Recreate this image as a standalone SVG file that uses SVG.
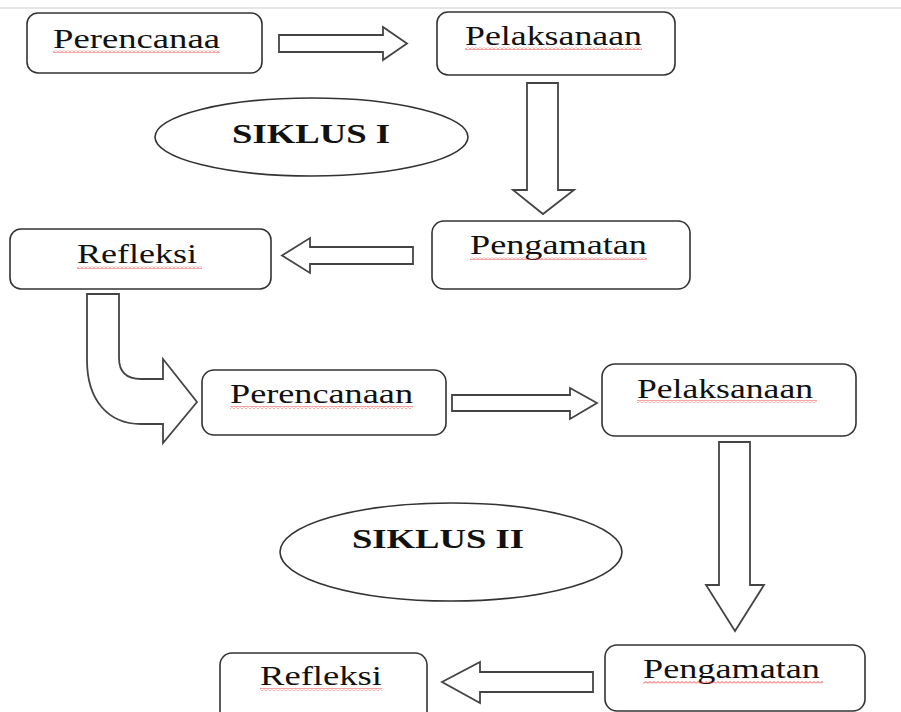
<svg xmlns="http://www.w3.org/2000/svg" width="901" height="712" viewBox="0 0 901 712">
<style>
.box{fill:#fff;stroke:#333;stroke-width:1.6}
.arr{fill:#fff;stroke:#444;stroke-width:1.8;stroke-linejoin:miter}
.lbl{font-family:"Liberation Serif","Times New Roman",serif;font-size:27px;fill:#111}
.sik{font-family:"Liberation Serif","Times New Roman",serif;font-size:27px;font-weight:bold;fill:#111}
.ell{fill:#fff;stroke:#333;stroke-width:1.6}
.wav{fill:url(#wave)}
</style>
<defs>
<pattern id="wave" width="4" height="3" patternUnits="userSpaceOnUse">
<path d="M0,2.5 L2,0.5 L4,2.5" fill="none" stroke="#e33" stroke-width="0.9"/>
</pattern>
</defs>
<rect width="901" height="712" fill="#fff"/>
<line x1="0" y1="8" x2="901" y2="8" stroke="#ccc" stroke-width="1"/>

<g id="connectors">
<path class="arr" d="M279,35 L383,35 L383,27 L407,43.5 L383,60 L383,52 L279,52 Z"/>
<path class="arr" d="M527,83 L558,83 L558,190 L574,190 L543,214 L513,190 L527,190 Z"/>
<path class="arr" d="M413,247 L310,247 L310,238 L282,255.5 L310,273 L310,264 L413,264 Z"/>
<path class="arr" d="M87,294 L119,294 L119,358 Q119,379 141,379 L163,379 L163,359 L197,402 L163,443 L163,424 L141,424 C108,424 87,400 87,360 Z"/>
<path class="arr" d="M452,395 L570,395 L570,388 L597,403 L570,419 L570,411 L452,411 Z"/>
<path class="arr" d="M719,442 L750,442 L750,585 L764,585 L735,631 L706,585 L719,585 Z"/>
<path class="arr" d="M593,672 L480,672 L480,662 L442,682 L480,703 L480,692 L593,692 Z"/>
</g>

<g id="siklus1">
<ellipse class="ell" cx="311.5" cy="137" rx="156.5" ry="39"/>
<text class="sik" x="232" y="143" textLength="158" lengthAdjust="spacingAndGlyphs">SIKLUS I</text>
</g>
<g id="siklus2">
<ellipse class="ell" cx="451" cy="552" rx="171" ry="49"/>
<text class="sik" x="352" y="548" textLength="172" lengthAdjust="spacingAndGlyphs">SIKLUS II</text>
</g>

<g id="perencanaa1">
<rect class="box" x="27" y="13" width="235" height="60" rx="11"/>
<text class="lbl" x="53" y="48" textLength="167" lengthAdjust="spacingAndGlyphs">Perencanaa</text>
<rect class="wav" x="53" y="50" width="167" height="3"/>
</g>
<g id="pelaksanaan1">
<rect class="box" x="437" y="12" width="238" height="63" rx="11"/>
<text class="lbl" x="465" y="45" textLength="177" lengthAdjust="spacingAndGlyphs">Pelaksanaan</text>
<rect class="wav" x="465" y="47" width="177" height="3"/>
</g>
<g id="pengamatan1">
<rect class="box" x="432" y="221" width="258" height="68" rx="12"/>
<text class="lbl" x="470" y="254" textLength="177" lengthAdjust="spacingAndGlyphs">Pengamatan</text>
<rect class="wav" x="470" y="257" width="177" height="3"/>
</g>
<g id="refleksi1">
<rect class="box" x="10" y="229" width="261" height="60" rx="11"/>
<text class="lbl" x="77" y="263" textLength="120" lengthAdjust="spacingAndGlyphs">Refleksi</text>
<rect class="wav" x="77" y="266" width="125" height="3"/>
</g>
<g id="perencanaan2">
<rect class="box" x="202" y="370" width="244" height="65" rx="12"/>
<text class="lbl" x="230" y="403" textLength="183" lengthAdjust="spacingAndGlyphs">Perencanaan</text>
<rect class="wav" x="230" y="406" width="183" height="3"/>
</g>
<g id="pelaksanaan2">
<rect class="box" x="602" y="364" width="254" height="72" rx="13"/>
<text class="lbl" x="637" y="398" textLength="176" lengthAdjust="spacingAndGlyphs">Pelaksanaan</text>
<rect class="wav" x="637" y="400" width="180" height="3"/>
</g>
<g id="pengamatan2">
<rect class="box" x="605" y="645" width="260" height="66" rx="12"/>
<text class="lbl" x="643" y="678" textLength="177" lengthAdjust="spacingAndGlyphs">Pengamatan</text>
<rect class="wav" x="643" y="681" width="180" height="3"/>
</g>
<g id="refleksi2">
<rect class="box" x="220" y="653" width="207" height="70" rx="12"/>
<text class="lbl" x="260" y="685" textLength="122" lengthAdjust="spacingAndGlyphs">Refleksi</text>
<rect class="wav" x="260" y="688" width="122" height="3"/>
</g>
</svg>
